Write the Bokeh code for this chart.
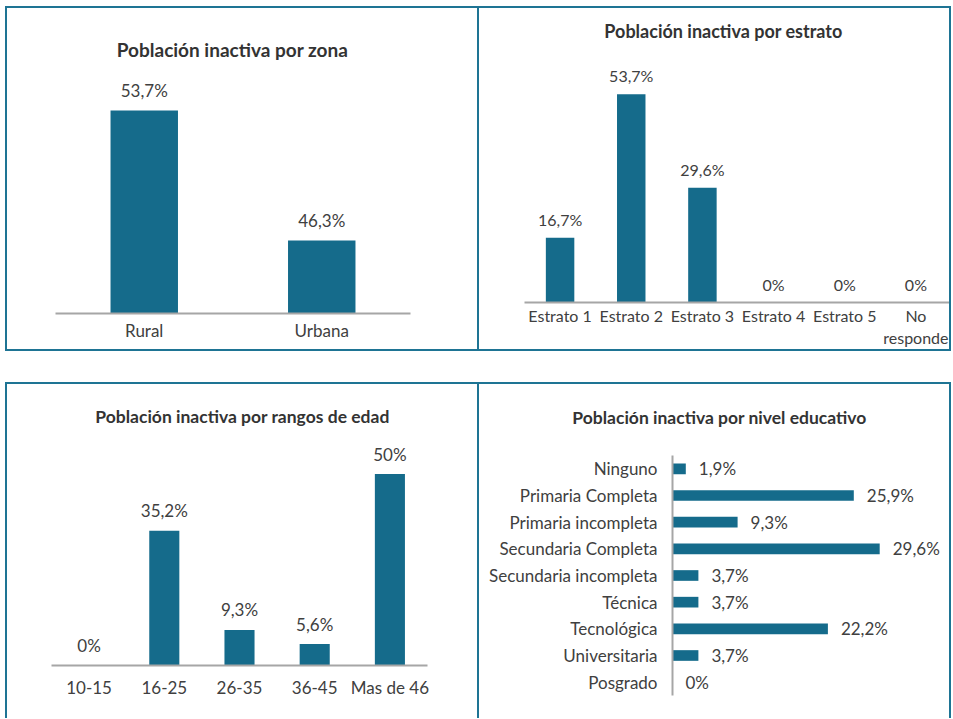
from bokeh.plotting import figure
from bokeh.layouts import column, row
from bokeh.models import (ColumnDataSource, FactorRange, Range1d, Label, LinearAxis,
                          FixedTicker)
from bokeh.core.properties import value
from bokeh.embed import file_html
from bokeh.resources import INLINE

# ---------------- data ----------------
zona_cats = ["Rural", "Urbana"]
zona_vals = [53.7, 46.3]

estrato_cats = ["Estrato 1", "Estrato 2", "Estrato 3", "Estrato 4", "Estrato 5", "No\nresponde"]
estrato_vals = [16.7, 53.7, 29.6, 0, 0, 0]

edad_cats = ["10-15", "16-25", "26-35", "36-45", "Mas de 46"]
edad_vals = [0, 35.2, 9.3, 5.6, 50]

edu_cats = ["Ninguno", "Primaria Completa", "Primaria incompleta", "Secundaria Completa",
            "Secundaria incompleta", "Técnica", "Tecnológica", "Universitaria", "Posgrado"]
edu_vals = [1.9, 25.9, 9.3, 29.6, 3.7, 3.7, 22.2, 3.7, 0]

titles = ["Población inactiva por zona", "Población inactiva por estrato",
          "Población inactiva por rangos de edad", "Población inactiva por nivel educativo"]

# ---------------- style ----------------
FONT = "Lato"
BAR = "#156b8b"
TXT = "#404040"
TITLE_C = "#333333"
AXIS_C = "#a6a6a6"
BORDER = "#1e7494"


def fmt(v):
    if float(v).is_integer():
        return f"{int(v)}%"
    return f"{v:.1f}".replace(".", ",") + "%"


def border_style(sides):
    st = {}
    for s in ["top", "right", "bottom", "left"]:
        st[f"border-{s}"] = f"2px solid {BORDER}" if s in sides else "0px none"
    return st


def base_fig(x_range, y_range, w, h, mb, sides, xloc="below", yloc=None):
    p = figure(x_range=x_range, y_range=y_range, width=w, height=h, title=None,
               output_backend="svg", toolbar_location=None,
               x_axis_location=xloc, y_axis_location=yloc,
               min_border_left=mb[0], min_border_right=mb[1],
               min_border_top=mb[2], min_border_bottom=mb[3],
               styles=border_style(sides))
    p.grid.visible = False
    p.outline_line_color = None
    p.background_fill_color = "white"
    p.border_fill_color = "white"
    return p


def style_axis(ax, standoff, fs):
    ax.axis_line_color = AXIS_C
    ax.axis_line_width = 2
    ax.major_tick_line_color = None
    ax.minor_tick_line_color = None
    ax.major_tick_out = 0
    ax.major_tick_in = 0
    ax.minor_tick_out = 0
    ax.minor_tick_in = 0
    ax.major_label_standoff = standoff
    ax.major_label_text_font = FONT
    ax.major_label_text_font_size = fs
    ax.major_label_text_color = TXT


def add_title(p, text, x, y, fs):
    p.add_layout(Label(x=x, y=y, text=text, text_align="center", text_baseline="middle",
                       text_font=FONT, text_font_size=fs, text_font_style="bold",
                       text_color=TITLE_C))


def vbar_panel(cats, vals, title, box, frame_lr, axis_px, ppu, base, bar_w,
               title_px, title_fs, sides, standoff, lab_off, fs):
    """box=(w,h) of the figure; frame_lr=(left,right) px; axis_px = y px of the axis;
    ppu = px per unit; base = value at the axis; title_px = (x, y) px."""
    w, h = box
    fl, fr = frame_lr
    ymax = base + axis_px / ppu
    n = len(cats)
    tx = (title_px[0] - fl) / ((fr - fl) / n)
    ty = base + (axis_px - title_px[1]) / ppu
    src = ColumnDataSource(dict(cat=cats, val=vals, lab=[fmt(v) for v in vals]))
    p = base_fig(FactorRange(*cats), Range1d(base, ymax), w, h,
                 (fl, w - fr, 0, h - axis_px), sides)
    p.vbar(x="cat", top="val", bottom=base, width=bar_w, source=src,
           fill_color=BAR, line_color=None)
    p.text(x="cat", y="val", text="lab", source=src, y_offset=-lab_off,
           text_align="center", text_baseline="middle",
           text_font=value(FONT), text_font_size=fs, text_color=TXT)
    style_axis(p.xaxis[0], standoff, fs)
    add_title(p, title, tx, ty, title_fs)
    return p


# Panel A: zona  (box 474x345 at page (5,6))
pA = vbar_panel(zona_cats, zona_vals, titles[0], (474, 345), (48, 403), 305, 17.57, 42.15,
                0.38, (225, 41), "19px", ["top", "left", "right", "bottom"], 6, 20, "17px")

# Panel B: estrato (box 472x345 at page (479,6))
pB = vbar_panel(estrato_cats, estrato_vals, titles[1], (472, 345), (45, 472), 294, 3.88, 0,
                0.4, (244, 22), "18px", ["top", "right", "bottom"], 3, 18.5, "16px")

# Panel C: edad (box 474x336 at page (5,382))
pC = vbar_panel(edad_cats, edad_vals, titles[2], (474, 336), (44, 420), 281, 3.83, 0,
                0.4, (235, 32), "17.5px", ["top", "left", "right"], 11, 20, "17px")

# Panel D: nivel educativo (horizontal bars, box 472x336 at page (479,382))
W_D, H_D = 472, 336
AX_X = 193              # x px of vertical axis
PPU_X = 7.0             # px per percent
ROW_TOP, ROW_BOT = 71, 311   # px span of the category axis
n_edu = len(edu_cats)
ppu_y = (ROW_BOT - ROW_TOP) / n_edu
ypos = [n_edu - 0.5 - i for i in range(n_edu)]     # Ninguno on top
srcD = ColumnDataSource(dict(y=ypos, val=edu_vals, lab=[fmt(v) for v in edu_vals]))
pD = base_fig(Range1d(-AX_X / PPU_X, (W_D - AX_X) / PPU_X),
              Range1d(-(H_D - ROW_BOT) / ppu_y, n_edu + ROW_TOP / ppu_y),
              W_D, H_D, (0, 0, 0, 0), ["top", "right"], xloc=None, yloc=None)
pD.hbar(y="y", right="val", left=0, height=0.4, source=srcD, fill_color=BAR, line_color=None)
pD.text(x="val", y="y", text="lab", source=srcD, x_offset=13,
        text_align="left", text_baseline="middle",
        text_font=value(FONT), text_font_size="17px", text_color=TXT)
yax = LinearAxis(fixed_location=0, bounds=(0, n_edu),
                 ticker=FixedTicker(ticks=ypos),
                 major_label_overrides={y: c for y, c in zip(ypos, edu_cats)})
style_axis(yax, 15, "17px")
pD.add_layout(yax, "left")
add_title(pD, titles[3], (240 - AX_X) / PPU_X, n_edu + (ROW_TOP - 33) / ppu_y, "17.5px")

layout = column(row(column(pA), column(pB)), row(column(pC), column(pD)),
                spacing=31, margin=(6, 0, 0, 5))

open("out.html", "w").write(file_html(layout, INLINE))
